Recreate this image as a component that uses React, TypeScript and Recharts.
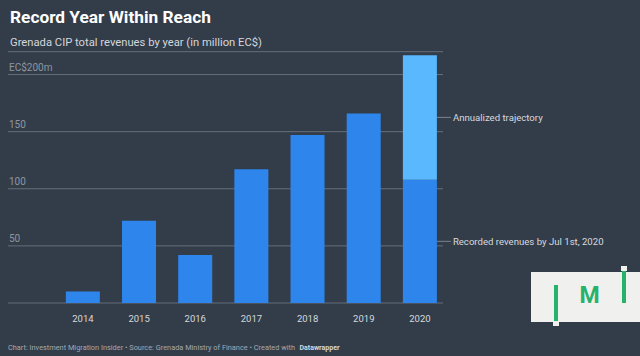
import React from "react";
import { BarChart, Bar, XAxis, YAxis, CartesianGrid, LabelList } from "recharts";

const years = [2014, 2015, 2016, 2017, 2018, 2019, 2020];
const recorded = [10, 72, 42, 117, 147, 166, 108];
const annualized = [0, 0, 0, 0, 0, 0, 109];
const yTicks = [0, 50, 100, 150, 200];
const yTickLabels = ["", "50", "100", "150", "EC$200m"];
const recordedLabel = "Recorded revenues by Jul 1st, 2020";
const annualizedLabel = "Annualized trajectory";

const data = years.map((y, i) => ({ year: y, recorded: recorded[i], annualized: annualized[i] }));

const BG = "#333d4a";
const FONT = "Roboto, 'Noto Sans', sans-serif";

const YTick = (props: any) => {
  const { y, payload } = props;
  const idx = yTicks.indexOf(Number(payload.value));
  const label = yTickLabels[idx];
  if (!label) return null;
  return (
    <text x={9} y={y - 4} fill="#8e96a1" fontSize={10} fontFamily={FONT} textAnchor="start">
      {label}
    </text>
  );
};

const XTick = (props: any) => {
  const { x, y, payload } = props;
  return (
    <text x={x} y={y + 11} fill="#d6d9de" fontSize={9.5} fontFamily={FONT} textAnchor="middle">
      {payload.value}
    </text>
  );
};

const makeSideLabel = (text: string) => (props: any) => {
  const { x, y, width, height, value } = props;
  if (!value || Number(x) < 380) return null;
  const midY = Number(y) + Number(height) / 2;
  const x0 = Number(x) + Number(width);
  return (
    <g>
      <line x1={x0} x2={x0 + 14} y1={midY} y2={midY} stroke="#7a838f" strokeWidth={1} />
      <text x={x0 + 16} y={midY + 3.5} fill="#d6d9de" fontSize={9.6} fontFamily={FONT}>
        {text}
      </text>
    </g>
  );
};

export default function App() {
  return (
    <div style={{ position: "absolute", left: 0, top: 0, width: 640, height: 356, background: BG, overflow: "hidden", fontFamily: FONT }}>
      <svg style={{ position: "absolute", left: 0, top: 0 }} width={640} height={356}>
        <text x={10} y={23} fill="#ffffff" fontSize={17.3} fontWeight={700} fontFamily={FONT}>
          Record Year Within Reach
        </text>
        <text x={10} y={46} fill="#d3d6db" fontSize={10.7} fontFamily={FONT} textLength={252} lengthAdjust="spacingAndGlyphs">
          Grenada CIP total revenues by year (in million EC$)
        </text>
        <text x={8} y={350} fill="#a3a9b1" fontSize={7.05} fontFamily={FONT} textLength={287} lengthAdjust="spacingAndGlyphs">
          Chart: Investment Migration Insider • Source: Grenada Ministry of Finance • Created with
        </text>
        <text x={299.5} y={350} fill="#d6d9de" fontSize={7.05} fontWeight={700} fontFamily={FONT} textLength={40} lengthAdjust="spacingAndGlyphs">
          Datawrapper
        </text>
      </svg>
      <div style={{ position: "absolute", left: 0, top: 0 }}>
        <BarChart width={640} height={356} data={data} margin={{ top: 51.7, right: 197, bottom: 33, left: 6 }}>
          <CartesianGrid vertical={false} stroke="#656e7a" strokeWidth={1} />
          <XAxis
            dataKey="year"
            type="number"
            domain={[2012.666, 2020.41]}
            ticks={years}
            height={20}
            axisLine={false}
            tickLine={false}
            tick={<XTick />}
            allowDecimals={false}
          />
          <YAxis
            type="number"
            domain={[0, 220]}
            ticks={yTicks}
            width={2}
            interval={0}
            axisLine={false}
            tickLine={false}
            tick={<YTick />}
            allowDataOverflow
          />
          <Bar dataKey="recorded" stackId="a" fill="#2e86ec" barSize={34} isAnimationActive={false}>
            <LabelList dataKey="recorded" content={makeSideLabel(recordedLabel)} />
          </Bar>
          <Bar dataKey="annualized" stackId="a" fill="#5ab8ff" barSize={34} isAnimationActive={false}>
            <LabelList dataKey="annualized" content={makeSideLabel(annualizedLabel)} />
          </Bar>
        </BarChart>
      </div>
      <svg style={{ position: "absolute", left: 0, top: 0 }} width={640} height={356}>
        <rect x={531} y={272} width={109} height={50} fill="#f0f0ee" />
        <rect x={554} y={285} width={4} height={38} fill="#27b26b" />
        <rect x={553} y={321} width={6} height={5} fill="#f0f0ee" />
        <text x={589.5} y={303} textAnchor="middle" fill="#27b26b" fontSize={23} fontWeight={700} fontFamily={FONT}>
          M
        </text>
        <rect x={622} y={270} width={4} height={33} fill="#27b26b" />
        <rect x={621} y={266} width={6} height={5} fill="#f0f0ee" />
      </svg>
    </div>
  );
}
